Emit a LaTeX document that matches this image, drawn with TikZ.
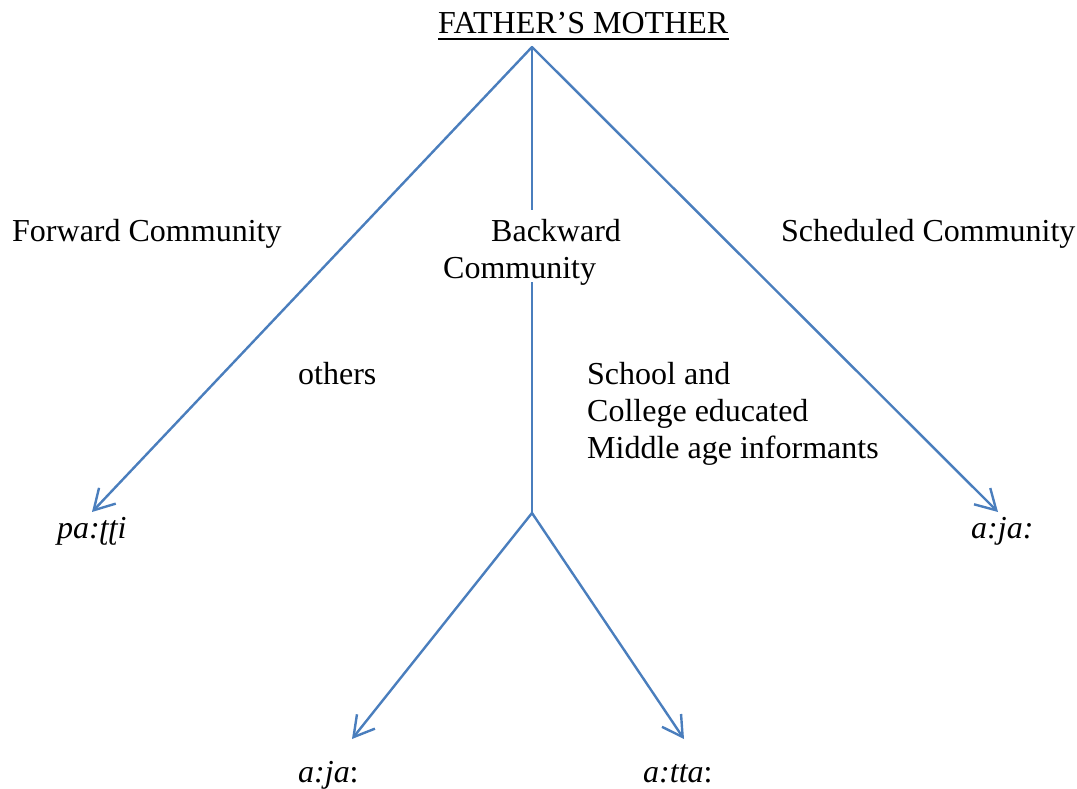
\documentclass[tikz,border=0pt]{standalone}
\usepackage{fontspec}
\setmainfont{Liberation Serif}
\usetikzlibrary{arrows.meta}
\definecolor{linkblue}{RGB}{74,126,189}
\begin{document}
\begin{tikzpicture}[x=1pt,y=-1pt,
  every node/.style={inner sep=0pt,font=\fontsize{32}{37}\selectfont},
  lbl/.style={anchor=base west},
  link/.style={draw=linkblue,line width=2.4pt,line cap=round},
  tip/.style={-{Straight Barb[length=20pt,width=23pt,line width=2.4pt]}}]
\useasboundingbox (0,0) rectangle (1077,788);

% title
\node[lbl] (fm) at (438,33) {FATHER’S MOTHER};
\draw[line width=2pt] ([yshift=-6pt]fm.base west) -- ([yshift=-6pt]fm.base east);

% branching points and arrow tips
\coordinate (root) at (532,47);
\coordinate (split) at (532,513);
\coordinate (fwd) at (92,512);
\coordinate (sch) at (998,512);
\coordinate (low1) at (352,739);
\coordinate (low2) at (684,739);

% connectors
\draw[link,tip] (root) -- (fwd);
\draw[link,tip] (root) -- (sch);
\draw[link] (root) -- (split);
\draw[link,tip] (split) -- (low1);
\draw[link,tip] (split) -- (low2);

% community labels
\node[lbl] (fc) at (12,241) {Forward Community};
\node[anchor=north west,align=left,fill=white,inner ysep=4pt,text depth=0pt] (bw) at (443,210)
  {\rule{0pt}{27pt}\hspace*{48pt}Backward\\Community};
\node[lbl] (sc) at (781,241) {Scheduled Community};

% sub-group labels
\node[lbl] (oth) at (298,384) {others};
\node[anchor=north west,align=left] (edu) at (587,362)
  {School and\\College educated\\Middle age informants};

% kinship terms
\node[lbl] (t1) at (57,538) {\itshape pa:ʈʈi};
\node[lbl] (t2) at (971,538) {\itshape a:ja:};
\node[lbl] (t3) at (298,782) {\textit{a:ja}:};
\node[lbl] (t4) at (643,782) {\textit{a:tta}:};
\end{tikzpicture}
\end{document}
